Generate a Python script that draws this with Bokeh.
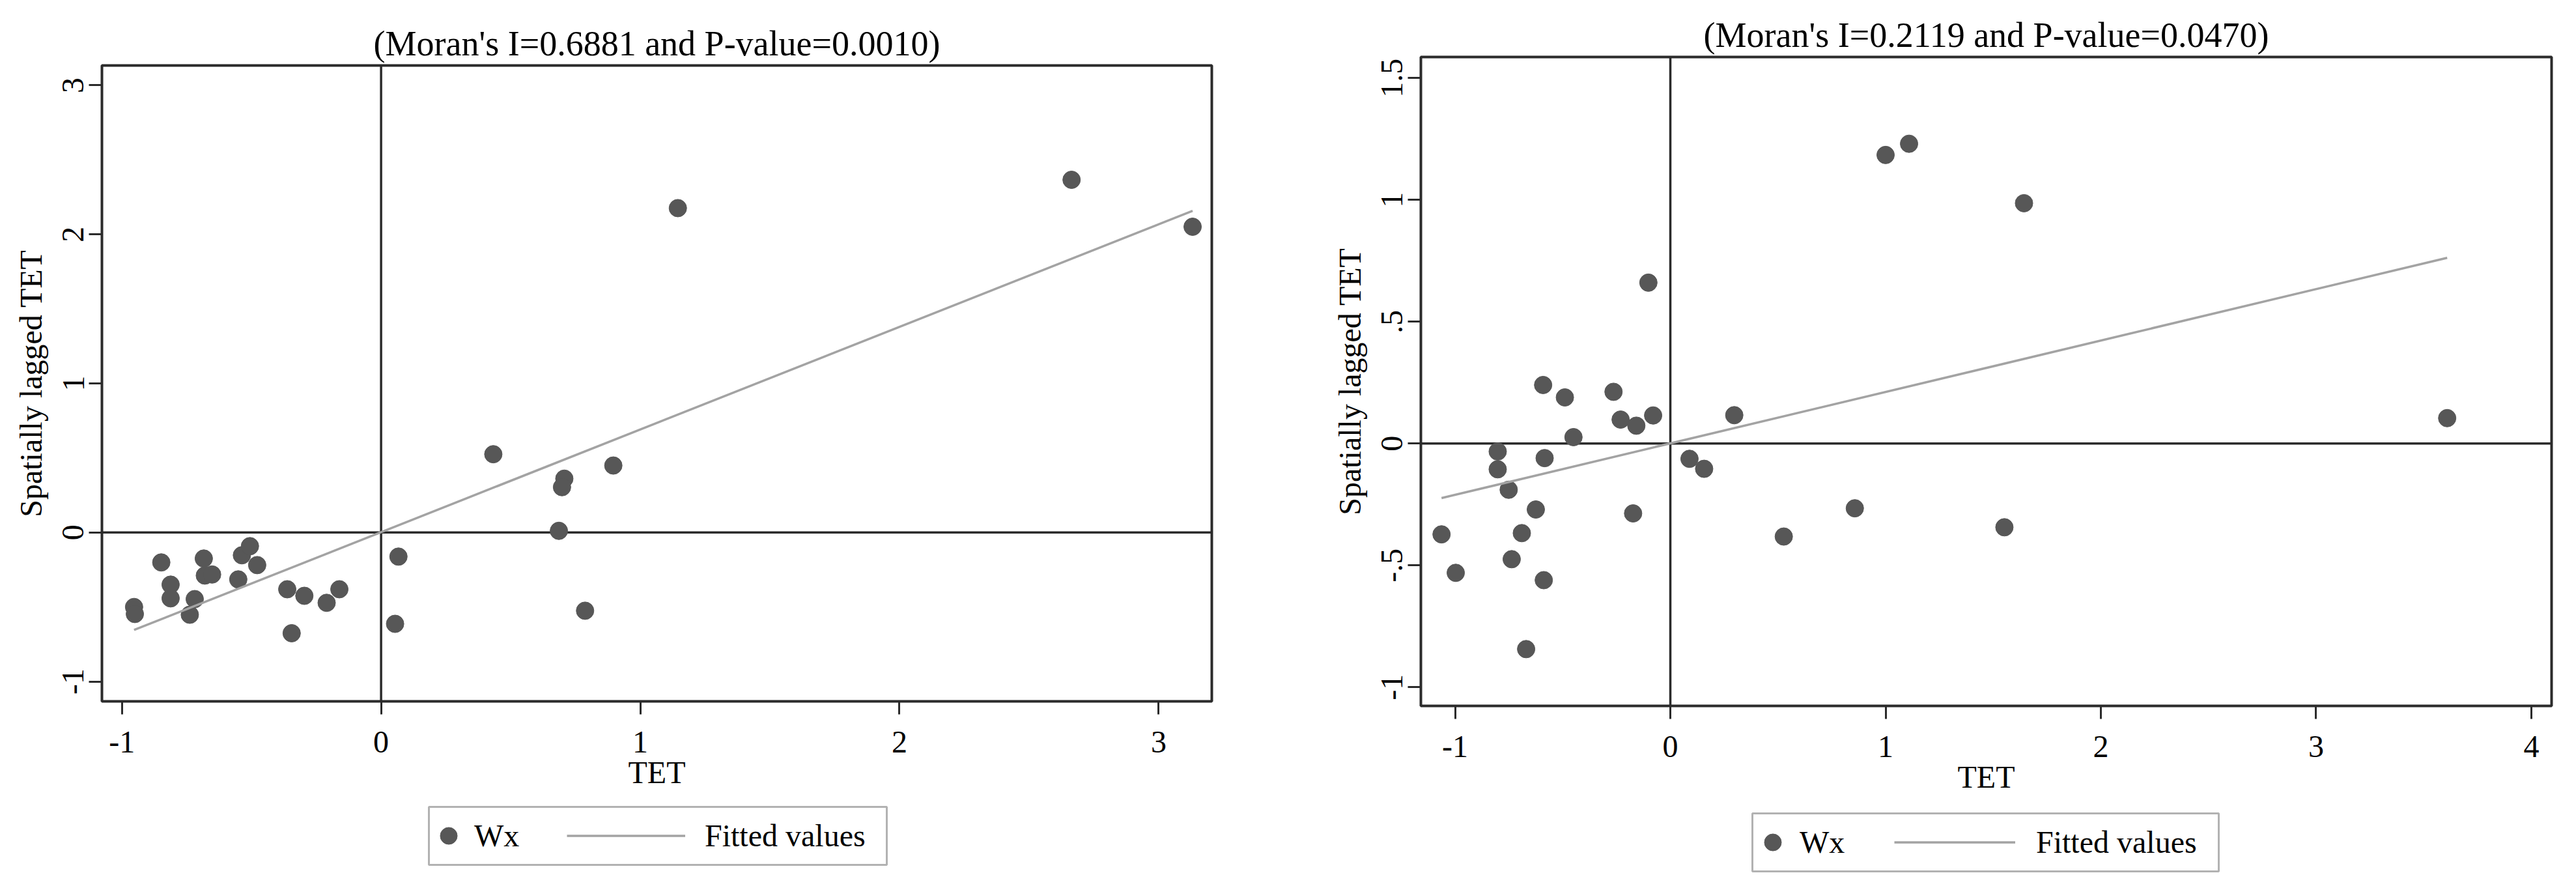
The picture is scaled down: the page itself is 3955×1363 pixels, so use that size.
from bokeh.plotting import figure
from bokeh.layouts import row, column
from bokeh.models import Span, Legend, LegendItem, FixedTicker, Range1d, BoxAnnotation
from bokeh.embed import file_html
from bokeh.resources import INLINE

FONT = "Liberation Serif"

# ---------------- data: left panel ----------------
title_left = "(Moran's I=0.6881 and P-value=0.0010)"
tet_left = [-0.953, -0.950, -0.848, -0.812, -0.812, -0.719, -0.738, -0.684, -0.680, -0.652,
            -0.551, -0.537, -0.506, -0.478, -0.362, -0.345, -0.296, -0.210, -0.161, 0.067,
            0.054, 0.433, 0.707, 0.698, 0.686, 0.896, 0.787, 1.145, 2.664, 3.131]
wx_left = [-0.500, -0.547, -0.201, -0.350, -0.442, -0.447, -0.552, -0.175, -0.289, -0.282,
           -0.315, -0.153, -0.092, -0.219, -0.381, -0.676, -0.425, -0.472, -0.381, -0.162,
           -0.613, 0.525, 0.361, 0.304, 0.011, 0.449, -0.525, 2.176, 2.366, 2.051]
fit_x_left = [-0.953, 3.131]
fit_y_left = [-0.654, 2.158]
xticks_left = [-1, 0, 1, 2, 3]
xlabels_left = ["-1", "0", "1", "2", "3"]
yticks_left = [-1, 0, 1, 2, 3]
ylabels_left = ["-1", "0", "1", "2", "3"]

# ---------------- data: right panel ----------------
title_right = "(Moran's I=0.2119 and P-value=0.0470)"
tet_right = [1.000, 1.109, 1.643, -0.102, -0.591, -0.490, -0.264, -0.231, -0.158, -0.080,
             -0.450, 0.297, 3.609, -0.802, -0.802, -0.584, -0.751, -0.625, -0.173, -1.063,
             -0.690, -0.737, -0.997, -0.588, -0.670, 0.089, 0.157, 0.527, 0.857, 1.552]
wx_right = [1.184, 1.230, 0.986, 0.660, 0.240, 0.189, 0.212, 0.098, 0.073, 0.115,
            0.026, 0.116, 0.104, -0.033, -0.106, -0.060, -0.190, -0.271, -0.287, -0.373,
            -0.368, -0.475, -0.531, -0.561, -0.844, -0.063, -0.104, -0.382, -0.266, -0.344]
fit_x_right = [-1.063, 3.609]
fit_y_right = [-0.224, 0.762]
xticks_right = [-1, 0, 1, 2, 3, 4]
xlabels_right = ["-1", "0", "1", "2", "3", "4"]
yticks_right = [-1, -0.5, 0, 0.5, 1, 1.5]
ylabels_right = ["-1", "-.5", "0", ".5", "1", "1.5"]

x_axis_title = "TET"
y_axis_title = "Spatially lagged TET"
legend_labels = ["Wx", "Fitted values"]

POINT_COLOR = "#575757"
FIT_COLOR = "#a3a3a3"
DARK = "#2b2b2b"


def style_points(fig, x, y, **kw):
    return fig.scatter(x, y, marker="circle", size=27, fill_color=POINT_COLOR,
                       line_color=POINT_COLOR, **kw)


def style_fit(fig, x, y, **kw):
    return fig.line(x, y, line_color=FIT_COLOR, line_width=3.5, **kw)


def make_panel(title, x, y, fx, fy, xr, yr, xticks, xlabels, yticks, ylabels,
               border_left, frame_w, frame_h, border_top, border_bottom, border_right):
    p = figure(frame_width=frame_w, frame_height=frame_h,
               min_border_left=border_left, min_border_right=border_right,
               min_border_top=border_top, min_border_bottom=border_bottom,
               x_range=Range1d(*xr), y_range=Range1d(*yr),
               output_backend="svg", toolbar_location=None,
               background_fill_color="white", border_fill_color="white")
    p.title.text = title
    p.title.text_font = FONT
    p.title.text_font_size = "54px"
    p.title.text_font_style = "normal"
    p.title.text_color = "black"
    p.title.align = "center"
    p.title.standoff = 8

    p.xgrid.visible = False
    p.ygrid.visible = False
    p.outline_line_color = DARK
    p.outline_line_width = 4

    p.xaxis.ticker = FixedTicker(ticks=xticks)
    p.yaxis.ticker = FixedTicker(ticks=yticks)
    p.xaxis.major_label_overrides = {t: s for t, s in zip(xticks, xlabels)}
    p.yaxis.major_label_overrides = {t: s for t, s in zip(yticks, ylabels)}
    p.yaxis.major_label_orientation = "vertical"
    p.xaxis.axis_label = x_axis_title
    p.yaxis.axis_label = y_axis_title
    for ax in (p.xaxis[0], p.yaxis[0]):
        ax.axis_line_color = None
        ax.major_tick_in = 0
        ax.major_tick_out = 20
        ax.major_tick_line_color = DARK
        ax.major_tick_line_width = 3
        ax.minor_tick_line_color = None
        ax.major_label_text_font = FONT
        ax.major_label_text_font_size = "48px"
        ax.major_label_text_color = "black"
        ax.axis_label_text_font = FONT
        ax.axis_label_text_font_size = "48px"
        ax.axis_label_text_font_style = "normal"
        ax.axis_label_text_color = "black"
    p.xaxis.major_label_standoff = 26
    p.xaxis.axis_label_standoff = 1
    p.yaxis.major_label_standoff = 8
    p.yaxis.axis_label_standoff = 20

    p.add_layout(Span(location=0, dimension="width", line_color=DARK, line_width=3.5, level="underlay"))
    p.add_layout(Span(location=0, dimension="height", line_color=DARK, line_width=3.5, level="underlay"))

    style_points(p, x, y)
    style_fit(p, fx, fy)
    return p


def make_legend_strip(x, y, fx, fy, border_left, frame_w, border_right, strip_h, border_top, geom):
    # strip under a panel, with the same horizontal borders so the column keeps frames aligned
    (bl, br, bb, bt), (a_x, a_y, a_stand), (b_x, b_w, b_stand) = geom
    lf = figure(frame_width=frame_w, frame_height=strip_h,
                min_border_left=border_left, min_border_right=border_right,
                min_border_top=border_top, min_border_bottom=0,
                x_range=Range1d(0, frame_w), y_range=Range1d(0, strip_h),
                x_axis_location=None, y_axis_location=None,
                output_backend="svg", toolbar_location=None,
                background_fill_color="white", border_fill_color="white")
    lf.xgrid.visible = False
    lf.ygrid.visible = False
    lf.outline_line_color = None
    lf.add_layout(BoxAnnotation(left=bl, right=br, bottom=bb, top=bt,
                                fill_alpha=0, fill_color=None,
                                line_color="black", line_width=3))
    # key renderers (hidden: only their legend swatches are shown)
    r_pt = style_points(lf, x, y, visible=False)
    r_ln = style_fit(lf, fx, fy, visible=False)
    common = dict(padding=0, margin=0, spacing=0, border_line_color=None,
                  background_fill_alpha=0, inactive_fill_alpha=0,
                  label_text_font=FONT, label_text_font_size="48px",
                  label_text_color="black", glyph_height=65,
                  orientation="horizontal", click_policy="none")
    leg_a = Legend(items=[LegendItem(label=legend_labels[0], renderers=[r_pt])],
                   location=(a_x, a_y), glyph_width=65, label_standoff=a_stand, **common)
    leg_b = Legend(items=[LegendItem(label=legend_labels[1], renderers=[r_ln])],
                   location=(b_x, a_y), glyph_width=b_w, label_standoff=b_stand, **common)
    lf.add_layout(leg_a)
    lf.add_layout(leg_b)
    return lf


p1 = make_panel(title_left, tet_left, wx_left, fit_x_left, fit_y_left,
                (-1.077, 3.205), (-1.133, 3.133), xticks_left, xlabels_left,
                yticks_left, ylabels_left,
                156, 1704, 976, 100, 160, 100)
l1 = make_legend_strip(tet_left, wx_left, fit_x_left, fit_y_left,
                       156, 1704, 100, 95, 0,
                       ((502, 1205, 4, 93), (500, 16, 7), (714, 182, 30)))

p2 = make_panel(title_right, tet_right, wx_right, fit_x_right, fit_y_right,
                (-1.159, 4.094), (-1.077, 1.586), xticks_right, xlabels_right,
                yticks_right, ylabels_right,
                221, 1736, 996, 87, 160, 20)
l2 = make_legend_strip(tet_right, wx_right, fit_x_right, fit_y_right,
                       221, 1736, 20, 99, 0,
                       ((509, 1225, 5, 94), (508, 17, 9), (727, 186, 32)))

layout = row(column(p1, l1), column(p2, l2))
open("out.html", "w").write(file_html(layout, INLINE))
